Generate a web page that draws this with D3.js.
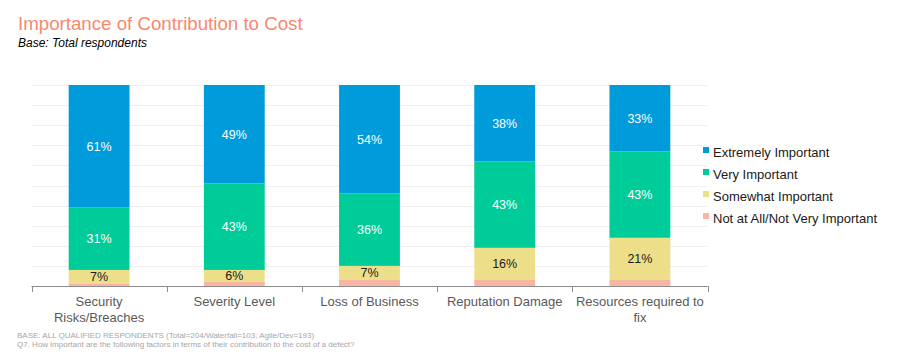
<!DOCTYPE html>
<html>
<head>
  <title>Importance of Contribution to Cost</title>
  <script src="https://d3js.org/d3.v7.min.js"></script>
  <style>
    body { margin: 0; background: #fff; }
    text { font-family: "Liberation Sans", Arial, sans-serif; }
  </style>
</head>
<body>
  <svg width="898" height="358"></svg>

  <script>
    // Categories and series (percent of respondents)
    const categories = ["Security Risks/Breaches", "Severity Level", "Loss of Business", "Reputation Damage", "Resources required to fix"];
    const categoryLines = [["Security", "Risks/Breaches"], ["Severity Level"], ["Loss of Business"], ["Reputation Damage"], ["Resources required to", "fix"]];
    const seriesNames = ["Not at All/Not Very Important", "Somewhat Important", "Very Important", "Extremely Important"];
    const notAtAll = [1, 2, 3, 3, 3];
    const somewhat = [7, 6, 7, 16, 21];
    const very = [31, 43, 36, 43, 43];
    const extremely = [61, 49, 54, 38, 33];
    const colors = ["#F9B5A3", "#EDDF8A", "#00CC99", "#009BDA"];
    const yTicks = [0, 10, 20, 30, 40, 50, 60, 70, 80, 90, 100];

    const seriesValues = [notAtAll, somewhat, very, extremely];

    const svg = d3.select("svg");

    // Title and subtitle
    svg.append("text")
      .attr("x", 18).attr("y", 30)
      .attr("font-size", 18.7)
      .attr("fill", "#F7886D")
      .text("Importance of Contribution to Cost");
    svg.append("text")
      .attr("x", 18).attr("y", 47)
      .attr("font-size", 12)
      .attr("font-style", "italic")
      .attr("fill", "#000")
      .text("Base: Total respondents");

    // Plot area
    const plotLeft = 31.5, plotRight = 707.5, plotTop = 85, plotBottom = 286;

    const x = d3.scaleBand()
      .domain(categories)
      .range([plotLeft, plotRight])
      .paddingInner(0.55)
      .paddingOuter(0.275);

    const y = d3.scaleLinear()
      .domain([0, 100])
      .range([plotBottom, plotTop]);

    // Gridlines
    svg.append("g")
      .selectAll("line")
      .data(yTicks.slice(1))
      .join("line")
      .attr("x1", plotLeft).attr("x2", plotRight)
      .attr("y1", d => Math.round(y(d)) + 0.5)
      .attr("y2", d => Math.round(y(d)) + 0.5)
      .attr("stroke", "#EFEFEF")
      .attr("stroke-width", 1);

    // Stacked bars
    const rows = categories.map((c, i) => {
      const r = { cat: c };
      seriesNames.forEach((s, j) => r[s] = seriesValues[j][i]);
      return r;
    });
    const stacked = d3.stack().keys(seriesNames)(rows);

    const layers = svg.append("g")
      .selectAll("g")
      .data(stacked)
      .join("g")
      .attr("fill", (d, i) => colors[i]);

    layers.selectAll("rect")
      .data(d => d)
      .join("rect")
      .attr("x", d => x(d.data.cat))
      .attr("width", x.bandwidth())
      .attr("y", d => y(d[1]))
      .attr("height", d => y(d[0]) - y(d[1]));

    // Value labels (skip the thin bottom segment)
    stacked.forEach((layer, i) => {
      if (i === 0) return;
      svg.append("g")
        .selectAll("text")
        .data(layer)
        .join("text")
        .attr("x", d => x(d.data.cat) + x.bandwidth() / 2)
        .attr("y", d => (y(d[0]) + y(d[1])) / 2 + 4.5)
        .attr("text-anchor", "middle")
        .attr("font-size", 12.5)
        .attr("fill", i === 1 ? "#1a1a1a" : "#ffffff")
        .text(d => (d[1] - d[0]) + "%");
    });

    // X axis line with category boundary ticks
    const axis = svg.append("g").attr("stroke", "#8C8C8C").attr("stroke-width", 1);
    axis.append("line")
      .attr("x1", plotLeft).attr("x2", plotRight)
      .attr("y1", plotBottom + 0.5).attr("y2", plotBottom + 0.5);
    const step = x.step();
    axis.selectAll("line.tick")
      .data(d3.range(categories.length + 1))
      .join("line")
      .attr("class", "tick")
      .attr("x1", i => Math.round(plotLeft + i * step) + 0.5)
      .attr("x2", i => Math.round(plotLeft + i * step) + 0.5)
      .attr("y1", plotBottom).attr("y2", plotBottom + 6);

    // Category labels
    const catLabels = svg.append("g")
      .selectAll("text")
      .data(categories)
      .join("text")
      .attr("text-anchor", "middle")
      .attr("font-size", 13)
      .attr("fill", "#595959")
      .attr("x", d => x(d) + x.bandwidth() / 2)
      .attr("y", 306);
    catLabels.each(function(d, i) {
      d3.select(this).selectAll("tspan")
        .data(categoryLines[i])
        .join("tspan")
        .attr("x", x(d) + x.bandwidth() / 2)
        .attr("dy", (t, k) => k === 0 ? 0 : 15.5)
        .text(t => t);
    });

    // Legend
    const legendOrder = [3, 2, 1, 0];
    const legend = svg.append("g")
      .selectAll("g")
      .data(legendOrder)
      .join("g")
      .attr("transform", (d, k) => `translate(703, ${152 + k * 22})`);
    legend.append("rect")
      .attr("x", 0).attr("y", -5)
      .attr("width", 6).attr("height", 6)
      .attr("fill", d => colors[d]);
    legend.append("text")
      .attr("x", 10).attr("y", 4.5)
      .attr("font-size", 13)
      .attr("fill", "#1a1a1a")
      .text(d => seriesNames[d]);

    // Footnotes
    const notes = [
      "BASE: ALL QUALIFIED RESPONDENTS (Total=204/Waterfall=103;  Agile/Dev=193)",
      "Q7. How important are the following factors in terms of their contribution  to the cost of a defect?"
    ];
    svg.append("g")
      .selectAll("text")
      .data(notes)
      .join("text")
      .attr("x", 17)
      .attr("y", (d, i) => 338 + i * 8.5)
      .attr("font-size", 8)
      .attr("fill", "#A6A6A6")
      .text(d => d);
  </script>
</body>
</html>
